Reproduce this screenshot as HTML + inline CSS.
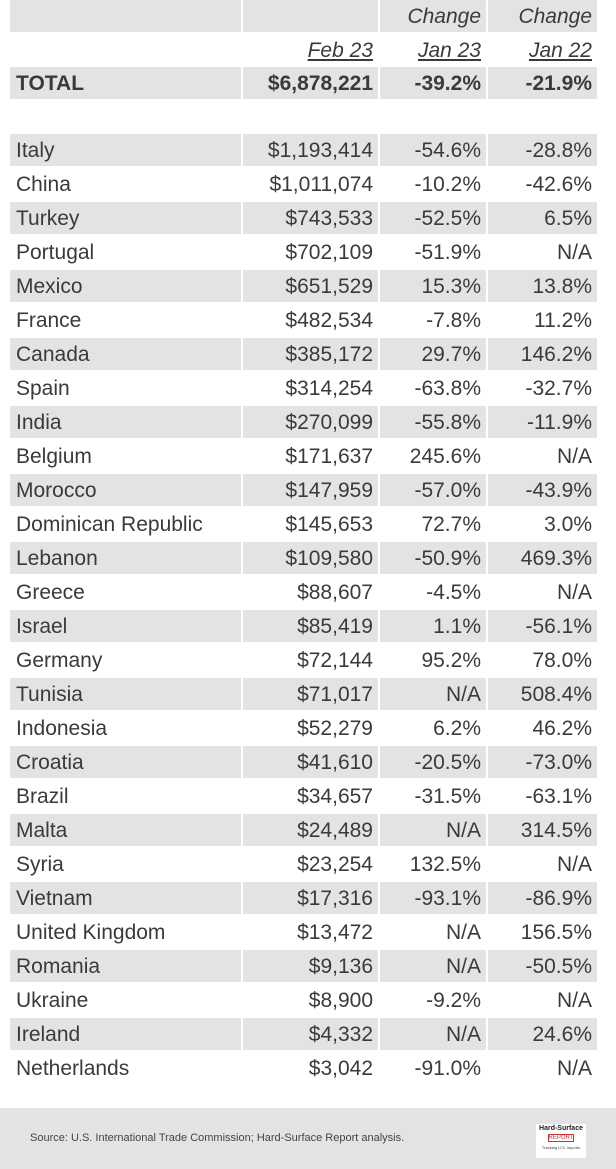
<!DOCTYPE html>
<html><head><meta charset="utf-8"><style>
body{margin:0;width:616px;height:1169px;background:#fff;position:relative;overflow:hidden;font-family:"Liberation Sans",Arial,sans-serif;color:#3a3a3a}
.row{position:absolute;left:10px;height:32px;width:587px}
.c{position:absolute;top:0;height:32px;line-height:34px;font-size:21px;box-sizing:border-box;white-space:nowrap}
.g .c{background:#e3e3e3}
.c1{left:0;width:231px;padding-left:6px}
.c2{left:233px;width:135px;text-align:right;padding-right:5px}
.c3{left:370px;width:106px;text-align:right;padding-right:5px}
.c4{left:478px;width:109px;text-align:right;padding-right:5px}
.i{font-style:italic}.u{text-decoration:underline}.b{font-weight:bold}
#footer{position:absolute;left:0;top:1108px;width:616px;height:61px;background:#e3e3e3}
</style></head><body>
<div class="row g" style="top:0"><div class="c c1"></div><div class="c c2"></div><div class="c c3 i">Change</div><div class="c c4 i">Change</div></div>
<div class="row" style="top:34px"><div class="c c1"></div><div class="c c2 i u">Feb 23</div><div class="c c3 i u">Jan 23</div><div class="c c4 i u">Jan 22</div></div>
<div class="row g b" style="top:67px"><div class="c c1">TOTAL</div><div class="c c2">$6,878,221</div><div class="c c3">-39.2%</div><div class="c c4">-21.9%</div></div>
<div id="rows"></div>
<div id="footer">
<div style="position:absolute;left:30px;top:24px;font-size:11px;color:#444">Source: U.S. International Trade Commission; Hard-Surface Report analysis.</div>
<div style="position:absolute;left:536px;top:16px;width:50px;height:34px;background:#fff;font-size:6px;text-align:center;line-height:9px"><b style="font-size:7px;color:#222">Hard-Surface</b><br><span style="color:#c33;border:1px solid #c33;font-size:6px">REPORT</span><br><span style="font-size:4px">Tracking U.S. imports</span></div>
</div>
<script>
const countries=["Italy","China","Turkey","Portugal","Mexico","France","Canada","Spain","India","Belgium","Morocco","Dominican Republic","Lebanon","Greece","Israel","Germany","Tunisia","Indonesia","Croatia","Brazil","Malta","Syria","Vietnam","United Kingdom","Romania","Ukraine","Ireland","Netherlands"];
const values=["$1,193,414","$1,011,074","$743,533","$702,109","$651,529","$482,534","$385,172","$314,254","$270,099","$171,637","$147,959","$145,653","$109,580","$88,607","$85,419","$72,144","$71,017","$52,279","$41,610","$34,657","$24,489","$23,254","$17,316","$13,472","$9,136","$8,900","$4,332","$3,042"];
const chgJan23=["-54.6%","-10.2%","-52.5%","-51.9%","15.3%","-7.8%","29.7%","-63.8%","-55.8%","245.6%","-57.0%","72.7%","-50.9%","-4.5%","1.1%","95.2%","N/A","6.2%","-20.5%","-31.5%","N/A","132.5%","-93.1%","N/A","N/A","-9.2%","N/A","-91.0%"];
const chgJan22=["-28.8%","-42.6%","6.5%","N/A","13.8%","11.2%","146.2%","-32.7%","-11.9%","N/A","-43.9%","3.0%","469.3%","N/A","-56.1%","78.0%","508.4%","46.2%","-73.0%","-63.1%","314.5%","N/A","-86.9%","156.5%","-50.5%","N/A","24.6%","N/A"];
const host=document.getElementById('rows');
countries.forEach((n,i)=>{
  const r=document.createElement('div');
  r.className='row'+(i%2===0?' g':'');
  r.style.top=(134+i*34)+'px';
  
  
  [[n,'c1'],[values[i],'c2'],[chgJan23[i],'c3'],[chgJan22[i],'c4']].forEach(([t,c])=>{
    const d=document.createElement('div');d.className='c '+c;d.textContent=t;
    
    
    r.appendChild(d);
  });
  host.appendChild(r);
});
</script>
</body></html>
